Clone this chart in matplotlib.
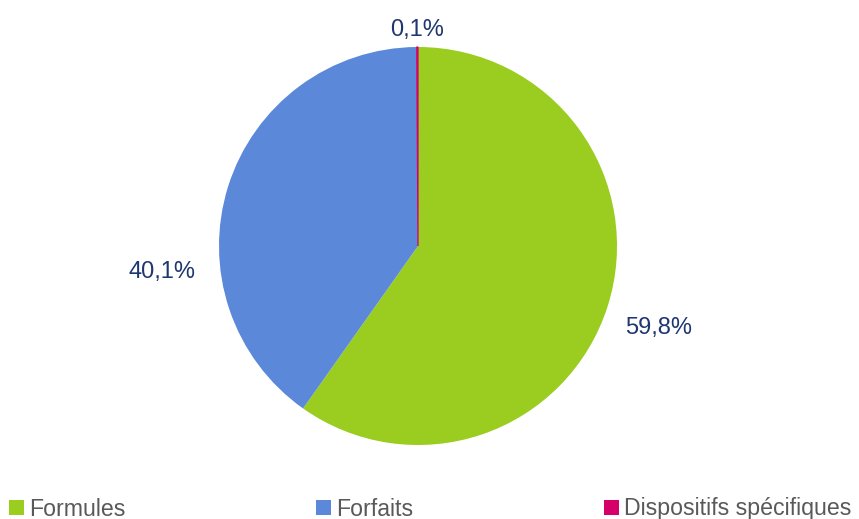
import matplotlib
matplotlib.use("Agg")
import matplotlib.pyplot as plt
from matplotlib.patches import Patch

categories = ["Formules", "Forfaits", "Dispositifs spécifiques"]
values = [59.8, 40.1, 0.1]
value_labels = ["59,8%", "40,1%", "0,1%"]
colors = ["#9ACD1F", "#5B88D9", "#D6006B"]

plt.rcParams['font.family'] = ['Liberation Sans', 'DejaVu Sans']

W, H = 859, 519
fig = plt.figure(figsize=(W / 100, H / 100), dpi=100)
cx, cy, r = 418, 246, 199
ax = fig.add_axes([(cx - r) / W, (H - cy - r) / H, 2 * r / W, 2 * r / H])
wedges, _ = ax.pie(values, colors=colors, startangle=90, counterclock=False,
                   wedgeprops=dict(linewidth=0))
wedges[2].set_edgecolor(colors[2])
wedges[2].set_linewidth(0.9)
ax.set_xlim(-1, 1)
ax.set_ylim(-1, 1)
ax.set_aspect('equal')
ax.axis('off')

# label positions (pixel centres in the figure)
label_pos = [(659, 328), (162, 272), (417, 30)]
for txt, (px, py) in zip(value_labels, label_pos):
    fig.text(px / W, 1 - py / H, txt, ha='center', va='center',
             fontsize=17, color="#1F3770")

legend_x = [9, 316, 604]
for cat, col, lx in zip(categories, colors, legend_x):
    fig.legend(handles=[Patch(facecolor=col, edgecolor='none')], labels=[cat],
               loc='center left', bbox_to_anchor=(lx / W, 1 - 509 / H),
               frameon=False, fontsize=16.7, labelcolor="#595959",
               handlelength=0.65, handleheight=0.65, handletextpad=0.2,
               borderpad=0, borderaxespad=0)

fig.savefig("out.png", dpi=100)
